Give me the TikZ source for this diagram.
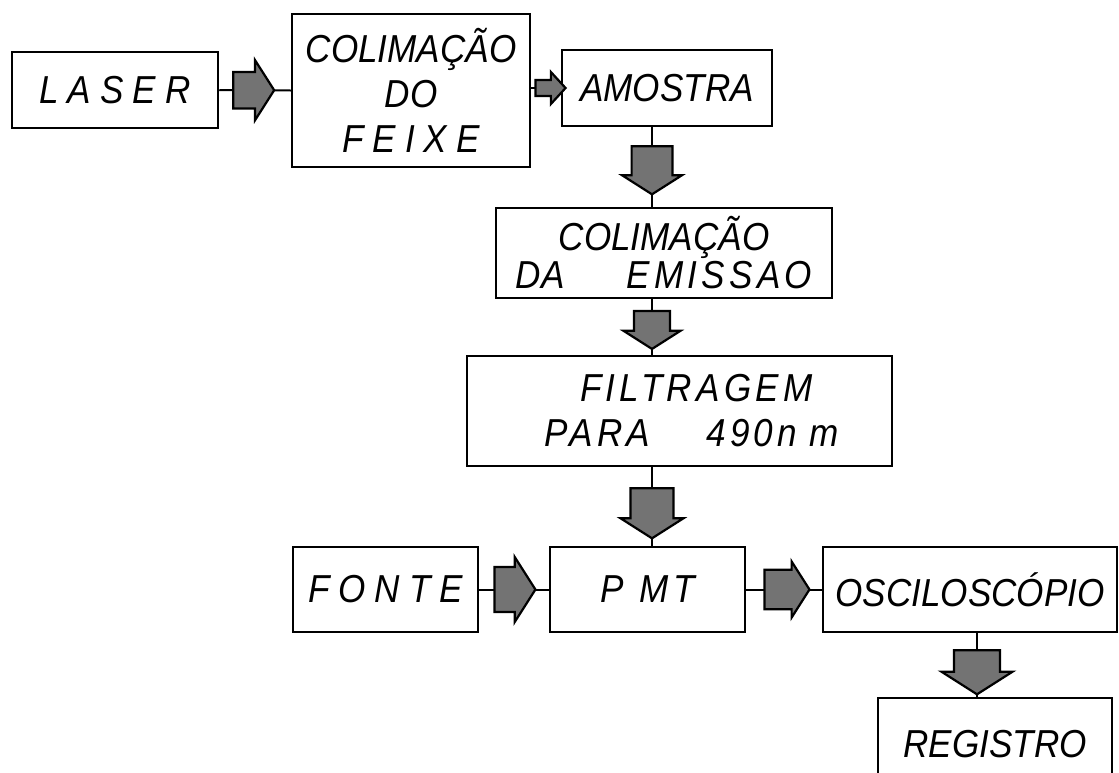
\documentclass[tikz,border=0pt]{standalone}
\usepackage{fontspec}
\newfontfamily\letreiro[FakeStretch=0.9]{Liberation Sans}
\newfontfamily\letreirolargo[FakeStretch=0.9,LetterSpace=23]{Liberation Sans}
\newfontfamily\letreiromedio[FakeStretch=0.9,LetterSpace=11]{Liberation Sans}
\usepackage{tikz}
\usetikzlibrary{shapes.arrows}

\begin{document}
\begin{tikzpicture}[x=1pt,y=-1pt,
  caixa/.style={draw,line width=2.5pt,inner sep=0pt,align=center,
    font=\letreiro\itshape\fontsize{39}{45}\selectfont},
  ligacao/.style={line width=2pt},
  seta/.style={single arrow,draw,line width=2.2pt,fill=black!55,
    inner xsep=0pt,single arrow tip angle=115}]
  \useasboundingbox (0,0) rectangle (1119,772);
  % caixas do arranjo
  \node[caixa,minimum width=206pt,minimum height=76pt] (laser) at (115,90) {{\letreirolargo LASER}};
  \node[caixa,minimum width=238pt,minimum height=153pt] (feixe) at (411,90.5)
    {COLIMAÇÃO\\ DO\\ {\letreirolargo FEIXE}};
  \node[caixa,minimum width=210pt,minimum height=76pt] (amostra) at (667,88) {AMOSTRA};
  \node[caixa,minimum width=336pt,minimum height=90pt,font=\letreiro\itshape\fontsize{39}{38}\selectfont] (emissao) at (664,253)
    {COLIMAÇÃO\\ DA\hspace{62pt}{\letreiromedio EMISSAO}};
  \node[caixa,minimum width=425pt,minimum height=110pt] (filtragem) at (679.5,411)
    {\hspace*{34pt}{\letreiromedio FILTRAGEM}\\ \hspace*{24pt}{\letreiromedio PARA\hspace{56pt}490n\hspace{12pt}m}};
  \node[caixa,minimum width=185pt,minimum height=85pt] (fonte) at (385.5,589.5) {{\letreirolargo FONTE}};
  \node[caixa,minimum width=195pt,minimum height=85pt] (pmt) at (647.5,589.5) {P\hspace{16pt}M\hspace{4pt}T};
  \node[caixa,minimum width=294pt,minimum height=85pt] (osc) at (970,589.5) {OSCILOSCÓPIO};
  \node[caixa,minimum width=234pt,minimum height=92pt] (registro) at (995,744) {REGISTRO};
  % eixos das setas verticais
  \coordinate (eixo) at (652,0);
  \coordinate (eixoreg) at (977,0);
  % setas horizontais
  \draw[ligacao] (laser.east) -- node[seta,pos=0.4,minimum height=41pt,minimum width=60pt,inner ysep=10pt] (s1) {} (feixe.west);
  \draw[ligacao] (feixe.east |- amostra.west) -- node[seta,pos=0.53,minimum height=30pt,minimum width=32pt,inner ysep=6pt,single arrow tip angle=95] (s2) {} (amostra.west);
  \draw[ligacao] (fonte.east) -- node[seta,pos=0.41,minimum height=41pt,minimum width=65pt,inner ysep=15pt] (s6) {} (pmt.west);
  \draw[ligacao] (pmt.east) -- node[seta,pos=0.456,minimum height=45pt,minimum width=56pt,inner ysep=16pt] (s7) {} (osc.west);
  % setas verticais
  \draw[ligacao] (amostra.south -| eixo) -- node[seta,rotate=-90,pos=0.46,minimum height=48pt,minimum width=60pt,inner ysep=14pt] (s3) {} (emissao.north -| eixo);
  \draw[ligacao] (emissao.south -| eixo) -- node[seta,rotate=-90,pos=0.45,minimum height=38pt,minimum width=57pt,inner ysep=11pt] (s4) {} (filtragem.north -| eixo);
  \draw[ligacao] (filtragem.south -| eixo) -- node[seta,rotate=-90,pos=0.5,minimum height=50pt,minimum width=63pt,inner ysep=14pt] (s5) {} (pmt.north -| eixo);
  \draw[ligacao] (osc.south -| eixoreg) -- node[seta,rotate=-90,pos=0.5,minimum height=44pt,minimum width=71pt,inner ysep=12pt] (s8) {} (registro.north -| eixoreg);
\end{tikzpicture}
\end{document}
